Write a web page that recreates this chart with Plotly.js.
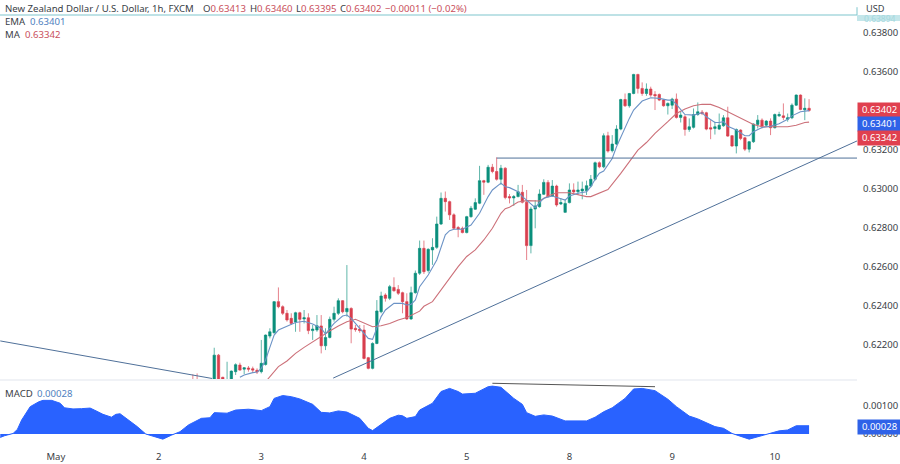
<!DOCTYPE html>
<html><head><meta charset="utf-8"><script src="https://cdn.plot.ly/plotly-3.0.1.min.js"></script>
<style>html,body{margin:0;padding:0;background:#fff}</style></head><body><div id="chart" style="width:900px;height:464px"></div>
<script>
// Prices are in 1e-5 units. Candle hour index 0 = 1 May 00:00.
const firstCandle = 32;
const openPts = [62000,61995,61990,61975,61960,
61999,62144,62030,61980,61999,62059,62093,62072,62078,62074,62066,62059,62096,62242,62259,
62419,62393,62359,62333,62314,62362,62330,62336,62270,62273,62294,62192,62235,62328,62359,62424,62367,62384,62282,62278,
62273,62131,62076,62204,62367,62453,62436,62492,62482,62465,62419,62330,62465,62565,62693,62579,62685,62698,62818,62950,
62933,62865,62800,62796,62774,62856,62894,62925,63041,63033,63110,63088,63048,63105,62959,62952,62959,62981,62930,62707,
62895,62907,62971,63032,62962,63013,62921,62878,62928,62993,62984,62988,62989,63013,63048,63133,63112,63272,63195,63229,
63306,63458,63426,63489,63587,63515,63489,63512,63484,63484,63455,63426,63429,63460,63366,63369,63304,63315,63381,63393,
63390,63313,63309,63306,63323,63364,63272,63219,63301,63261,63203,63241,63330,63352,63326,63347,63313,63374,63374,63357,
63364,63429,63481,63405,63413];
const highPts = [62045,62050,62015,62000,61998,
62182,62150,62033,62110,62065,62102,62105,62081,62088,62085,62076,62222,62250,62282,62422,
62492,62400,62376,62359,62367,62367,62376,62359,62299,62350,62350,62282,62342,62393,62436,62427,62607,62390,62299,62299,
62299,62135,62210,62427,62470,62462,62505,62544,62504,62470,62462,62496,62579,62733,62733,62693,62745,62856,62980,62985,
62938,62873,62808,62805,62860,62911,62950,63117,63045,63122,63127,63161,63122,63110,62972,62967,63019,63019,62993,62907,
62941,62996,63048,63044,63044,63020,62950,62945,63027,63027,63036,63036,63041,63070,63139,63140,63284,63292,63275,63326,
63462,63489,63492,63590,63590,63546,63541,63524,63501,63489,63460,63443,63467,63489,63395,63378,63361,63412,63443,63404,
63395,63352,63344,63386,63378,63421,63275,63309,63305,63265,63245,63335,63378,63361,63352,63361,63386,63395,63438,63386,
63438,63484,63484,63464,63460];
const lowPts = [61940,61940,61950,61950,61950,
61990,61990,62015,61970,61990,62042,62064,62047,62059,62054,62047,62050,62090,62230,62255,
62385,62350,62316,62299,62264,62264,62307,62252,62222,62264,62153,62170,62230,62316,62350,62359,62342,62205,62264,62259,
62122,62071,62071,62200,62359,62419,62427,62470,62453,62359,62325,62325,62460,62556,62561,62568,62608,62690,62813,62882,
62839,62790,62750,62770,62770,62850,62890,62920,62968,63028,63079,63041,63019,62945,62924,62911,62955,62924,62633,62667,
62796,62902,62967,62955,62959,62907,62916,62876,62924,62967,62967,62945,62967,63007,63041,63105,63105,63185,63186,63224,
63300,63420,63416,63485,63489,63477,63477,63472,63404,63450,63421,63381,63409,63360,63340,63272,63292,63309,63374,63378,
63300,63254,63278,63301,63318,63266,63215,63181,63249,63193,63186,63235,63309,63309,63318,63275,63309,63369,63352,63344,
63357,63425,63403,63352,63395];
const closePts = [61960,61955,61970,61960,61995,
62144,61999,62019,62000,62062,62095,62067,62079,62072,62067,62057,62102,62247,62264,62419,
62393,62359,62325,62307,62362,62328,62336,62270,62278,62295,62192,62235,62328,62359,62424,62367,62384,62278,62275,62270,
62127,62076,62204,62371,62448,62436,62496,62475,62462,62419,62330,62465,62565,62693,62573,62688,62698,62818,62950,62933,
62865,62796,62793,62774,62856,62899,62928,63041,63033,63110,63088,63048,63105,62954,62952,62959,62984,62930,62707,62895,
62911,62972,63032,62959,63013,62916,62928,62924,62993,62983,62993,62998,63015,63048,63133,63112,63272,63193,63229,63306,
63458,63426,63489,63587,63515,63489,63512,63481,63477,63455,63426,63438,63460,63366,63378,63304,63318,63381,63395,63386,
63306,63306,63318,63326,63364,63270,63219,63304,63258,63203,63241,63332,63352,63321,63347,63313,63381,63381,63366,63364,
63429,63481,63407,63413,63402];

const emaIndex = [43,44,46,47,48,49,50,51,52,54,56,58,60,62,63,64,65,67,68,69,71,73,74,75,76,77,79,81,82,83,84,85,87,89,90,91,92,93,95,96,97,99,101,102,104,105,106,108,109,110,112,113,114,116,117,118,119,120,122,124,125,126,127,128,130,131,132,134,135,137,139,141,143,144,145,147,149,151,152,154,155,156,157,159,161,162,163,165,167,169,171,172,174,176];
const emaPts = [62030,62042,62054,62057,62076,62119,62184,62247,62273,62294,62312,62318,62304,62282,62252,62282,62307,62345,62350,62333,62282,62230,62225,62282,62342,62376,62410,62410,62402,62405,62428,62496,62556,62633,62702,62762,62784,62791,62791,62801,62813,62873,62959,62993,63028,63010,63005,62984,62959,62941,62902,62928,62950,62962,62955,62947,62941,62962,62976,62984,63010,63048,63079,63090,63155,63215,63266,63361,63404,63450,63467,63464,63455,63455,63433,63381,63378,63390,63369,63340,63340,63344,63321,63301,63272,63272,63292,63314,63321,63333,63356,63374,63395,63401];
const maIndex = [49,51,52,54,56,58,60,62,64,66,68,70,72,74,76,78,80,82,85,86,88,90,92,94,96,98,100,102,104,105,106,108,110,113,115,117,120,122,124,125,127,129,132,134,136,138,140,143,145,147,149,151,153,155,158,161,163,165,168,171,173,175,176];
const maPts = [62007,62059,62085,62114,62153,62184,62213,62242,62268,62294,62316,62328,62311,62290,62295,62307,62325,62337,62370,62395,62419,62479,62539,62599,62651,62685,62736,62796,62873,62897,62904,62931,62938,62936,62962,62979,62979,62967,62959,62959,62976,62995,63078,63138,63198,63237,63284,63344,63386,63409,63426,63434,63433,63417,63383,63352,63330,63318,63318,63318,63326,63340,63342];
const macdIndex = [-13,-12,-10,-9,-8,-7,-6,-4,-3,-1,1,2,4,6,8,9,11,13,14,15,17,19,21,23,25,27,29,31,33,34,36,37,40,42,45,48,50,51,53,55,57,60,62,64,66,68,71,73,74,76,78,80,81,82,84,85,88,90,92,94,95,98,99,101,102,104,107,109,110,112,114,116,119,124,126,128,130,133,135,137,140,143,145,148,150,154,156,158,162,165,167,169,171,173,176];
const macdPts = [-12,-6,2,16,49,73,96,113,118,118,108,92,88,89,91,84,69,59,69,71,49,26,0,-8,-18,-4,8,32,49,55,57,75,73,84,87,82,96,125,135,131,123,104,76,74,81,77,55,20,12,32,55,66,64,55,61,84,108,149,160,149,140,143,151,166,168,164,125,104,75,62,67,63,46,46,59,78,92,125,158,160,152,122,96,63,53,26,20,2,-18,-6,1,11,14,29,29];

const dayTickIndex = [0,24,48,72,96,120,144,168];
const dayLabels = ['May','2','3','4','5','8','9','10'];
const priceTicks = [0.638,0.636,0.634,0.632,0.630,0.628,0.626,0.624,0.622];
const macdTicks = [0,0.001];
const fallingLineIndex = [-13,36.5], fallingLinePrice = [0.62217,0.62024];
const risingLineIndex = [64.8,187.2], risingLinePrice = [0.62026,0.63245];
const levelLineIndex = [103,187.2], levelLinePrice = [0.63157,0.63157];
const macdLineIndex = [102,140], macdLineValue = [0.00178,0.00166];
const lastValues = {open:'0.63413',high:'0.63460',low:'0.63395',close:'0.63402',change:'−0.00011 (−0.02%)',ema:'0.63401',ma:'0.63342',macd:'0.00028',top:'0.63894'};

const GREEN='#0b8f7c', RED='#d83f4e', BLUE='#6c93c6', MAR='#cc7079', LINE='#4f7099', TXT='#3a3e46', FILL='#2962ff', FONT='"Noto Sans"';
const P = a => a.map(v => v/1e5);
const candleX = openPts.map((_,k)=>k+firstCandle);

const traces = [
 {type:'scatter',mode:'lines',x:macdIndex,y:P(macdPts),xaxis:'x',yaxis:'y2',fill:'tozeroy',fillcolor:FILL,line:{color:FILL,width:1},hoverinfo:'skip'},
 {type:'candlestick',x:candleX,open:P(openPts),high:P(highPts),low:P(lowPts),close:P(closePts),xaxis:'x',yaxis:'y',
  increasing:{line:{color:'rgba(11,143,124,0.65)',width:1},fillcolor:GREEN},decreasing:{line:{color:'rgba(216,63,78,0.65)',width:1},fillcolor:RED},whiskerwidth:0},
 {type:'scatter',mode:'lines',x:maIndex,y:P(maPts),xaxis:'x',yaxis:'y',line:{color:MAR,width:1.1},hoverinfo:'skip'},
 {type:'scatter',mode:'lines',x:emaIndex,y:P(emaPts),xaxis:'x',yaxis:'y',line:{color:BLUE,width:1.1},hoverinfo:'skip'}
];
const seg=(xs,ys,yref,color,w)=>({type:'line',xref:'x',yref,x0:xs[0],x1:xs[1],y0:ys[0],y1:ys[1],line:{color,width:w}});
const shapes=[
 seg(fallingLineIndex,fallingLinePrice,'y',LINE,1),
 seg(risingLineIndex,risingLinePrice,'y',LINE,1),
 seg(levelLineIndex,levelLinePrice,'y',LINE,1),
 seg(macdLineIndex,macdLineValue,'y2','#555',1),
 {type:'line',xref:'paper',yref:'paper',x0:0,x1:1,y0:1,y1:1,line:{color:'#7fc6cd',width:1.2}},
 {type:'line',xref:'paper',yref:'paper',x0:1,x1:1,y0:1,y1:1.018,line:{color:'#7fc6cd',width:1}},
 {type:'line',xref:'paper',yref:'paper',x0:0,x1:1,y0:0.1590,y1:0.1590,line:{color:'#f0f2f6',width:2}},
 {type:'rect',xref:'paper',yref:'paper',x0:1,x1:1.0502,y0:0.986,y1:1,fillcolor:'#c4e6ea',line:{width:0}}
];
const ann=(x,y,text,opt={})=>Object.assign({xref:'paper',yref:'paper',x,y,text,showarrow:false,xanchor:'left',yanchor:'middle',borderpad:0,font:{family:FONT,size:9.6,color:TXT},align:'left'},opt);
const col=(c,t)=>`<span style="color:${c}">${t}</span>`;
const V='#c9505c', EV='#4f7fc0';
const badge=(y,text,bg)=>ann(1,y,text,{bgcolor:bg,width:43,height:13.5,font:{family:FONT,size:9.5,color:'#fff'},align:'center',xanchor:'left'});
const annotations=[
 ann(0,1.016,'New Zealand Dollar / U.S. Dollar, 1h, FXCM',{xshift:4}),
 ann(0,1.016,'O'+col(V,lastValues.open),{xshift:202}),
 ann(0,1.016,'H'+col(V,lastValues.high),{xshift:249}),
 ann(0,1.016,'L'+col(V,lastValues.low),{xshift:295}),
 ann(0,1.016,'C'+col(V,lastValues.close),{xshift:339}),
 ann(0,1.016,col(V,lastValues.change),{xshift:384}),
 ann(0,0.985,'EMA',{xshift:4}), ann(0,0.985,col(EV,lastValues.ema),{xshift:29}),
 ann(0,0.954,'MA',{xshift:4}), ann(0,0.954,col(V,lastValues.ma),{xshift:24}),
 ann(0,0.129,'MACD',{xshift:4}), ann(0,0.129,col(EV,lastValues.macd),{xshift:36}),
 ann(1,1.0155,'USD',{xshift:8,font:{family:FONT,size:9.2,color:TXT}}),
 ann(1,0.9925,col('#a5d8de',lastValues.top),{xshift:6,font:{family:FONT,size:8.5,color:'#a5d8de'}}),
 badge(0.780,lastValues.close,'#e0404f'),
 badge(0.7477,lastValues.ema,'#2f62e8'),
 badge(0.7155,lastValues.ma,'#e0404f'),
 badge(0.0518,lastValues.macd,'#2f62e8')
];
const layout={
 width:900,height:464,margin:{l:0,r:43,t:15,b:15},paper_bgcolor:'#fff',plot_bgcolor:'#fff',showlegend:false,boxgap:0.2,
 font:{family:FONT,size:9.5,color:TXT},
 xaxis:{range:[-13.06,187.2],tickmode:'array',tickvals:dayTickIndex,ticktext:dayLabels,showgrid:false,zeroline:false,showline:false,ticks:'',rangeslider:{visible:false},anchor:'y2',tickfont:{family:FONT,size:9.5,color:TXT}},
 yaxis:{domain:[0.1613,1],range:[0.620213,0.638925],side:'right',tickmode:'array',tickvals:priceTicks,tickformat:'.5f',showgrid:false,zeroline:false,showline:false,ticks:'',ticklabelstandoff:5,anchor:'x'},
 yaxis2:{domain:[0,0.1567],range:[-0.000526,0.00186],side:'right',tickmode:'array',tickvals:macdTicks,tickformat:'.5f',showgrid:false,zeroline:false,showline:false,ticks:'',ticklabelstandoff:5,anchor:'x'},
 shapes,annotations
};
Plotly.newPlot('chart',traces,layout,{staticPlot:true,displayModeBar:false});
</script></body></html>
